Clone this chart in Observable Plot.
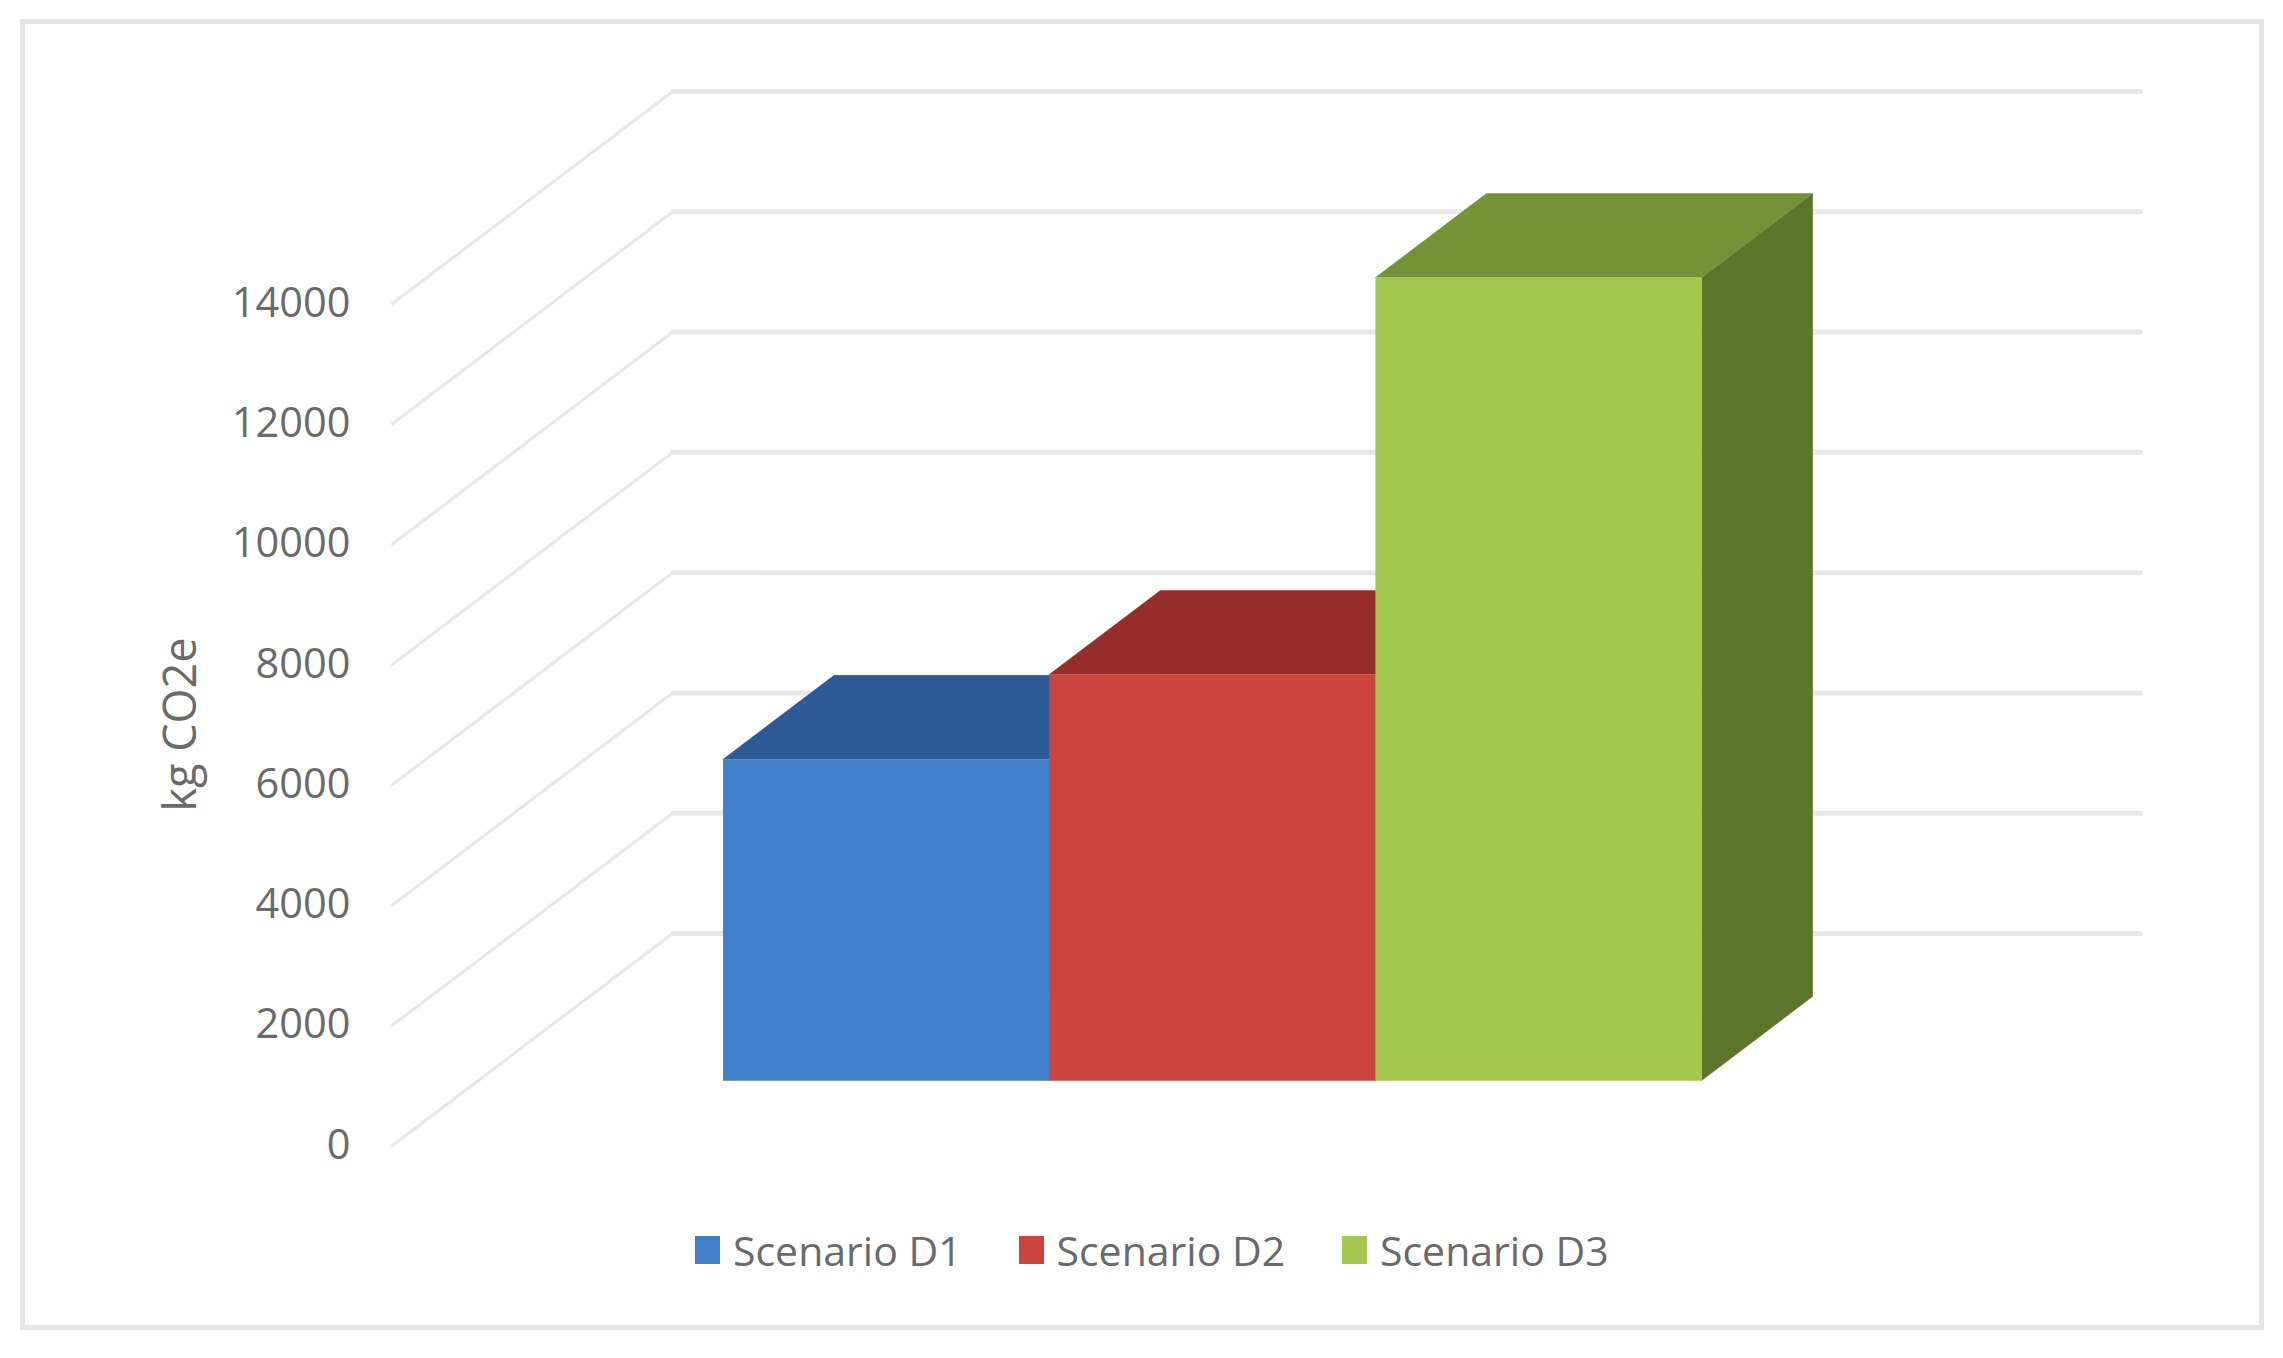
<!DOCTYPE html>
<html>
<head>
<meta charset="utf-8">
<script src="https://cdn.jsdelivr.net/npm/d3@7"></script>
<script src="https://cdn.jsdelivr.net/npm/@observablehq/plot@0.6"></script>
<style>
  html, body { margin: 0; padding: 0; background: #fff; }
  #page { position: relative; width: 2283px; height: 1358px; overflow: hidden; font-family: "Open Sans", sans-serif; }
  #frame { position: absolute; left: 20px; top: 19px; width: 2244px; height: 1311px; box-sizing: border-box; border: 5px solid #e6e6e6; pointer-events: none; }
  #legend { position: absolute; left: 695px; top: 1222px; display: flex; color: #6a6a6a; font-size: 41px; line-height: 56px; }
  .item { width: 323.5px; display: flex; align-items: center; white-space: nowrap; }
  .swatch { width: 25px; height: 28px; margin-right: 13px; flex: none; }
  svg { display: block; }
</style>
</head>
<body>
<div id="page">
  <div id="frame"></div>
  <div id="chart"></div>
  <div id="legend"></div>
</div>
<script>
const scenarios = ["Scenario D1", "Scenario D2", "Scenario D3"];
const values = [5340, 6750, 13350];
const frontColors = ["#4180c8", "#cc4440", "#a3c850"];
const topColors = ["#2d5a96", "#962d2a", "#739336"];
const sideColors = ["#27507f", "#7d2522", "#5b752a"];
const tickValues = [0, 2000, 4000, 6000, 8000, 10000, 12000, 14000];
const yLabel = "kg CO2e";

// Oblique projection of the 3D column chart, in data units
const gapUnits = 0.75;         // half gap each side, in bar widths
const wallUnits = 4.5;         // floor width, in bar widths
const xPerDepth = 0.859;       // horizontal shift of depth 0..1, in bar widths
const yPerDepth = 3525;        // vertical shift of depth 0..1, in kg CO2e
const barFront = 0.3066, barBack = 0.703;

const project = (u, v, d) => ({x: u + d * xPerDepth, y: v + d * yPerDepth});

const diagonals = tickValues.flatMap(v => [
  {...project(0, v, 0), v}, {...project(0, v, 1), v}
]);
const walls = tickValues.flatMap(v => [
  {...project(0, v, 1), v}, {...project(wallUnits, v, 1), v}
]);

const faces = values.flatMap((v, i) => {
  const a = gapUnits + i, b = a + 1;
  const poly = (name, color, pts) => pts.map(p => ({...project(...p), face: `${i}-${name}`, color}));
  return [
    ...poly("side", sideColors[i], [[b, 0, barFront], [b, 0, barBack], [b, v, barBack], [b, v, barFront]]),
    ...poly("top", topColors[i], [[a, v, barFront], [a, v, barBack], [b, v, barBack], [b, v, barFront]]),
    ...poly("front", frontColors[i], [[a, 0, barFront], [b, 0, barFront], [b, v, barFront], [a, v, barFront]])
  ];
});

const chart = Plot.plot({
  width: 2283,
  height: 1210,
  marginLeft: 392,
  marginRight: 143,
  marginTop: 303,
  marginBottom: 65,
  style: {fontFamily: '"Open Sans", sans-serif', background: "transparent"},
  x: {domain: [0, wallUnits + xPerDepth], axis: null},
  y: {domain: [0, 14000], axis: null},
  color: {type: "identity"},
  marks: [
    Plot.line(diagonals, {x: "x", y: "y", z: "v", stroke: "#e8e8e8", strokeWidth: 3}),
    Plot.line(walls, {x: "x", y: "y", z: "v", stroke: "#e8e8e8", strokeWidth: 5}),
    Plot.line(faces, {x: "x", y: "y", z: "face", fill: "color", stroke: "color", strokeWidth: 0.5}),
    Plot.axisY({
      ticks: tickValues,
      tickFormat: d3.format("d"),
      tickSize: 0,
      tickPadding: 42,
      fontSize: 41.5,
      color: "#6a6a6a",
      label: null
    }),
    Plot.axisY({
      ticks: [],
      tickSize: 0,
      fontSize: 45,
      color: "#6a6a6a",
      label: yLabel,
      labelAnchor: "center",
      labelArrow: "none",
      labelOffset: 228
    })
  ]
});
document.getElementById("chart").appendChild(chart);

const legend = document.getElementById("legend");
scenarios.forEach((name, i) => {
  const item = document.createElement("div");
  item.className = "item";
  const sw = document.createElement("span");
  sw.className = "swatch";
  sw.style.background = frontColors[i];
  const tx = document.createElement("span");
  tx.textContent = name;
  item.append(sw, tx);
  legend.append(item);
});
</script>
</body>
</html>
